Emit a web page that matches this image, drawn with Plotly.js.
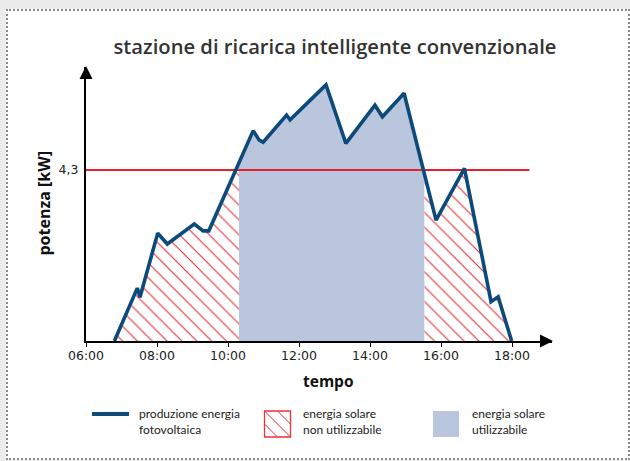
<!DOCTYPE html>
<html>
<head>
<meta charset="utf-8">
<script src="https://cdn.plot.ly/plotly-3.0.1.min.js"></script>
<style>
  html, body { margin: 0; padding: 0; background: #ececec; }
  #frame { position: absolute; left: 6px; top: 9px; width: 620px; height: 447px;
           background: #ffffff; border: 2px dotted #8a8a8a; }
  #chart { position: absolute; left: 0; top: 0; width: 630px; height: 461px; }
</style>
</head>
<body>
<div id="frame"></div>
<div id="chart"></div>
<script>
// ---- data (hours of day, kW) ----
const times = [6.80, 7.445, 7.52, 8.02, 8.29, 9.05, 9.30, 9.46, 10.71, 10.88, 10.99, 11.65, 11.75, 12.76, 13.32, 14.14, 14.35, 14.96, 15.86, 16.66, 17.41, 17.61, 17.99];
const power = [0, 1.33, 1.10, 2.71, 2.44, 2.94, 2.77, 2.77, 5.29, 5.05, 5.00, 5.68, 5.56, 6.44, 4.97, 5.93, 5.64, 6.23, 3.04, 4.34, 0.99, 1.11, 0];
const threshold = 4.3;
const usableStart = 10.31;
const usableEnd = 15.53;
const tickVals = [6, 8, 10, 12, 14, 16, 18];
const tickText = ["06:00", "08:00", "10:00", "12:00", "14:00", "16:00", "18:00"];
const yTickText = ["4,3"];
const titleText = "stazione di ricarica intelligente convenzionale";
const xTitle = "tempo";
const yTitle = "potenza [kW]";
const legendLabels = ["produzione energia<br>fotovoltaica", "energia solare<br>non utilizzabile", "energia solare<br>utilizzabile"];

// ---- helpers: piecewise linear curve value ----
function f(t) {
  if (t <= times[0]) return power[0];
  for (let i = 1; i < times.length; i++) {
    if (t <= times[i]) {
      const a = times[i-1], b = times[i];
      return power[i-1] + (power[i] - power[i-1]) * (t - a) / (b - a);
    }
  }
  return power[power.length - 1];
}
function breakpoints(a, b, cap) {
  const ts = [a];
  for (let i = 0; i < times.length; i++) if (times[i] > a && times[i] < b) ts.push(times[i]);
  for (let i = 1; i < times.length; i++) {
    const y0 = power[i-1] - cap, y1 = power[i] - cap;
    if (y0 * y1 < 0) {
      const t = times[i-1] + (times[i] - times[i-1]) * (-y0) / (y1 - y0);
      if (t > a && t < b) ts.push(t);
    }
  }
  ts.push(b);
  return ts.sort((p, q) => p - q);
}
function underPoly(a, b, cap) {
  const ts = breakpoints(a, b, cap);
  const xs = [a].concat(ts, [b, a]);
  const ys = [0].concat(ts.map(t => Math.min(f(t), cap)), [0, 0]);
  return {x: xs, y: ys};
}
function abovePoly(a, b, cap) {
  const ts = breakpoints(a, b, cap);
  const xs = ts.concat(ts.slice().reverse());
  const ys = ts.map(t => Math.max(f(t), cap)).concat(ts.map(() => cap));
  return {x: xs, y: ys};
}

const BLUE = "#0d4a7c";
const FILLBLUE = "#b9c6de";
const RED = "#e4202c";
const HATCH = "#e8323c";

const hatchStyle = {shape: "\\", fgcolor: HATCH, bgcolor: "#ffffff", size: 10.5, solidity: 0.11, fillmode: "replace"};

const left = underPoly(times[0], usableStart, threshold);
const right = underPoly(usableEnd, times[times.length-1], threshold);
const mid = underPoly(usableStart, usableEnd, 100);
const leftAbove = abovePoly(times[0], usableStart, threshold);

const traces = [
  {x: left.x, y: left.y, type: "scatter", mode: "none", fill: "toself", fillcolor: "#ffffff", fillpattern: hatchStyle, hoverinfo: "skip", showlegend: false},
  {x: right.x, y: right.y, type: "scatter", mode: "none", fill: "toself", fillcolor: "#ffffff", fillpattern: hatchStyle, hoverinfo: "skip", showlegend: false},
  {x: mid.x, y: mid.y, type: "scatter", mode: "none", fill: "toself", fillcolor: FILLBLUE, hoverinfo: "skip", showlegend: false},
  {x: leftAbove.x, y: leftAbove.y, type: "scatter", mode: "none", fill: "toself", fillcolor: FILLBLUE, hoverinfo: "skip", showlegend: false},
  {x: [6, 18.49], y: [threshold, threshold], type: "scatter", mode: "lines", line: {color: RED, width: 2}, hoverinfo: "skip", showlegend: false},
  {x: times, y: power, type: "scatter", mode: "lines", line: {color: BLUE, width: 3.6, shape: "linear"}, showlegend: false}
];

// plot area geometry (pixels)
const L = 86, T = 67, W = 466, H = 274;
const px = x => (x - L) / W;
const py = y => (T + H - y) / H;
const pathP = pts => pts.map((p, i) => (i ? "L" : "M") + px(p[0]).toFixed(5) + "," + py(p[1]).toFixed(5)).join(" ") + " Z";
const lineP = (a, b) => "M" + px(a[0]).toFixed(5) + "," + py(a[1]).toFixed(5) + " L" + px(b[0]).toFixed(5) + "," + py(b[1]).toFixed(5);

const shapes = [
  // axis arrowheads
  {type: "path", xref: "paper", yref: "paper", path: pathP([[86, 66], [79.5, 79], [92.5, 79]]), fillcolor: "#000", line: {width: 0}},
  {type: "path", xref: "paper", yref: "paper", path: pathP([[553, 341], [540, 334.5], [540, 347.5]]), fillcolor: "#000", line: {width: 0}},
  // legend: line
  {type: "line", xref: "paper", yref: "paper", x0: px(92), x1: px(129), y0: py(414), y1: py(414), line: {color: BLUE, width: 4}},
  // legend: hatched box
  {type: "rect", xref: "paper", yref: "paper", x0: px(264.5), x1: px(290.5), y0: py(411), y1: py(437), fillcolor: "#fff", line: {color: HATCH, width: 1.3}},
  {type: "path", xref: "paper", yref: "paper", path: lineP([264.5, 411], [290.5, 437]), line: {color: HATCH, width: 1}},
  {type: "path", xref: "paper", yref: "paper", path: lineP([277.5, 411], [290.5, 424]), line: {color: HATCH, width: 1}},
  {type: "path", xref: "paper", yref: "paper", path: lineP([264.5, 424], [277.5, 437]), line: {color: HATCH, width: 1}},
  // legend: blue box
  {type: "rect", xref: "paper", yref: "paper", x0: px(433), x1: px(459), y0: py(411), y1: py(437), fillcolor: FILLBLUE, line: {width: 0}}
];

const legFont = {family: "Lato, 'Noto Sans', sans-serif", size: 12, color: "#222"};
const axTitleFont = {family: "'Open Sans', 'Noto Sans', sans-serif", size: 16, color: "#111", weight: 700};
const annotations = [
  {text: yTitle, xref: "paper", yref: "paper", x: px(43.5), y: py(203), xanchor: "center", yanchor: "middle", textangle: -90, showarrow: false, font: axTitleFont},
  {text: xTitle, xref: "paper", yref: "paper", x: px(328), y: py(381), xanchor: "center", yanchor: "middle", showarrow: false, font: {...axTitleFont, size: 15.5}},
  {text: legendLabels[0], xref: "paper", yref: "paper", x: px(137), y: py(421.5), xanchor: "left", yanchor: "middle", align: "left", showarrow: false, font: legFont},
  {text: legendLabels[1], xref: "paper", yref: "paper", x: px(300.5), y: py(421.5), xanchor: "left", yanchor: "middle", align: "left", showarrow: false, font: legFont},
  {text: legendLabels[2], xref: "paper", yref: "paper", x: px(469.5), y: py(421.5), xanchor: "left", yanchor: "middle", align: "left", showarrow: false, font: legFont}
];

const tickFont = {family: "'DejaVu Sans', sans-serif", size: 12.5, color: "#222"};
const layout = {
  width: 630, height: 461,
  paper_bgcolor: "rgba(0,0,0,0)", plot_bgcolor: "rgba(0,0,0,0)",
  margin: {l: L, r: 630 - L - W, t: T, b: 461 - T - H, pad: 0},
  showlegend: false,
  title: {text: titleText, x: 335 / 630, xanchor: "center", y: 1 - 47 / 461, yanchor: "middle", xref: "container", yref: "container",
          font: {family: "'Open Sans', 'Noto Sans', sans-serif", size: 20.2, color: "#333", weight: 600}},
  xaxis: {range: [6, 6 + W / 35.5], showgrid: false, zeroline: false, showline: true, linecolor: "#000", linewidth: 2,
          tickvals: tickVals, ticktext: tickText, ticks: "outside", ticklen: 4, tickwidth: 1, tickcolor: "#000",
          ticklabelstandoff: -2, tickfont: tickFont, fixedrange: true},
  yaxis: {range: [0, H / 39.77], showgrid: false, zeroline: false, showline: true, linecolor: "#000", linewidth: 2,
          tickvals: [threshold], ticktext: yTickText, ticks: "", ticklabelstandoff: 3,
          tickfont: tickFont, fixedrange: true},
  shapes: shapes,
  annotations: annotations
};

Plotly.newPlot("chart", traces, layout, {displayModeBar: false, staticPlot: true});
</script>
</body>
</html>
